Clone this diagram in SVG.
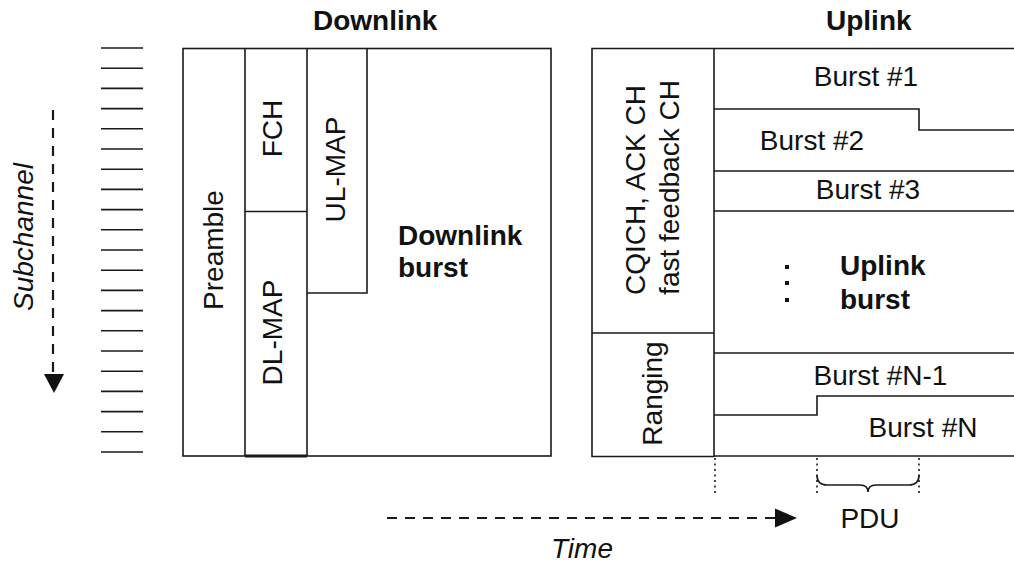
<svg xmlns="http://www.w3.org/2000/svg" width="1014" height="567" viewBox="0 0 1014 567">
  <defs>
    <style>
      .ln { fill: none; stroke: #1a1a1a; stroke-width: 1.6; }
      .tick { stroke: #1a1a1a; stroke-width: 1.6; }
      .dash { fill: none; stroke: #1a1a1a; stroke-width: 2.2; stroke-dasharray: 10 8; }
      .dot { fill: none; stroke: #1a1a1a; stroke-width: 1.6; stroke-dasharray: 2 3.5; }
      .t { font-family: "Liberation Sans", Arial, sans-serif; font-size: 28px; fill: #111; }
      .b { font-weight: bold; }
      .i { font-style: italic; }
      .c { text-anchor: middle; }
    </style>
  </defs>
  <rect width="1014" height="567" fill="#fff"/>

  <!-- titles -->
  <text class="t b" x="313" y="30" font-size="26">Downlink</text>
  <text class="t b" x="826" y="30" font-size="26">Uplink</text>

  <!-- subchannel ruler -->
  <g id="subchannel-ruler">
    <line class="tick" x1="101" y1="48" x2="143" y2="48"/>
    <line class="tick" x1="101" y1="68.2" x2="143" y2="68.2"/>
    <line class="tick" x1="101" y1="88.4" x2="143" y2="88.4"/>
    <line class="tick" x1="101" y1="108.6" x2="143" y2="108.6"/>
    <line class="tick" x1="101" y1="128.8" x2="143" y2="128.8"/>
    <line class="tick" x1="101" y1="149" x2="143" y2="149"/>
    <line class="tick" x1="101" y1="169.2" x2="143" y2="169.2"/>
    <line class="tick" x1="101" y1="189.4" x2="143" y2="189.4"/>
    <line class="tick" x1="101" y1="209.6" x2="143" y2="209.6"/>
    <line class="tick" x1="101" y1="229.8" x2="143" y2="229.8"/>
    <line class="tick" x1="101" y1="250" x2="143" y2="250"/>
    <line class="tick" x1="101" y1="270.2" x2="143" y2="270.2"/>
    <line class="tick" x1="101" y1="290.4" x2="143" y2="290.4"/>
    <line class="tick" x1="101" y1="310.6" x2="143" y2="310.6"/>
    <line class="tick" x1="101" y1="330.8" x2="143" y2="330.8"/>
    <line class="tick" x1="101" y1="351" x2="143" y2="351"/>
    <line class="tick" x1="101" y1="371.2" x2="143" y2="371.2"/>
    <line class="tick" x1="101" y1="391.4" x2="143" y2="391.4"/>
    <line class="tick" x1="101" y1="411.6" x2="143" y2="411.6"/>
    <line class="tick" x1="101" y1="431.8" x2="143" y2="431.8"/>
    <line class="tick" x1="101" y1="452" x2="143" y2="452"/>
  </g>

  <!-- downlink subframe -->
  <g id="downlink-frame">
    <rect class="ln" x="183" y="48.5" width="368" height="407.5"/>
  </g>
  <g id="preamble">
    <line class="ln" x1="245" y1="48.5" x2="245" y2="456"/>
    <text class="t c" transform="translate(223,250) rotate(-90)">Preamble</text>
  </g>
  <g id="fch">
    <line class="ln" x1="307" y1="48.5" x2="307" y2="456"/>
    <line class="ln" x1="245" y1="211.5" x2="307" y2="211.5"/>
    <text class="t c" transform="translate(282,128.5) rotate(-90)">FCH</text>
  </g>
  <g id="dl-map">
    <line x1="245" y1="456" x2="307" y2="456" stroke="#1a1a1a" stroke-width="3.2"/>
    <text class="t c" transform="translate(282,332.5) rotate(-90)">DL-MAP</text>
  </g>
  <g id="ul-map">
    <polyline class="ln" points="367,48.5 367,293 307,293"/>
    <text class="t c" transform="translate(345,169.5) rotate(-90)">UL-MAP</text>
  </g>
  <g id="downlink-burst">
    <text class="t b" x="398" y="245">Downlink</text>
    <text class="t b" x="398" y="277">burst</text>
  </g>

  <!-- uplink subframe -->
  <g id="uplink-frame">
    <polyline class="ln" points="1014,48.5 592,48.5 592,456.5 714,456.5"/>
    <line class="ln" x1="714" y1="456" x2="1014" y2="456"/>
    <line class="ln" x1="714" y1="48.5" x2="714" y2="457"/>
  </g>
  <g id="cqich">
    <line class="ln" x1="592" y1="333" x2="714" y2="333"/>
    <text class="t c" transform="translate(645,190) rotate(-90)">CQICH, ACK CH</text>
    <text class="t c" transform="translate(679,187.5) rotate(-90)">fast feedback CH</text>
  </g>
  <g id="ranging">
    <text class="t c" transform="translate(662,393.5) rotate(-90)">Ranging</text>
  </g>
  <g id="burst-1">
    <polyline class="ln" points="714,109 919,109 919,130 1014,130"/>
    <text class="t c" x="866" y="86">Burst #1</text>
  </g>
  <g id="burst-2">
    <line class="ln" x1="714" y1="171" x2="1014" y2="171"/>
    <text class="t c" x="812" y="150">Burst #2</text>
  </g>
  <g id="burst-3">
    <line class="ln" x1="714" y1="211" x2="1014" y2="211"/>
    <text class="t c" x="868" y="199">Burst #3</text>
  </g>
  <g id="uplink-burst">
    <rect x="785" y="265" width="4" height="4" fill="#111"/>
    <rect x="785" y="281" width="4" height="4" fill="#111"/>
    <rect x="785" y="298" width="4" height="4" fill="#111"/>
    <text class="t b" x="840" y="275">Uplink</text>
    <text class="t b" x="840" y="309">burst</text>
  </g>
  <g id="burst-n-1">
    <line class="ln" x1="714" y1="353" x2="1014" y2="353"/>
    <text class="t c" x="880.5" y="385">Burst #N-1</text>
  </g>
  <g id="burst-n">
    <polyline class="ln" points="714,415 817,415 817,396 1014,396"/>
    <text class="t c" x="923" y="437">Burst #N</text>
  </g>
  <g id="pdu">
    <text class="t c" x="870" y="528">PDU</text>
  </g>

  <!-- axes, guides and brace -->
  <g id="connectors">
    <line class="dash" x1="53" y1="110" x2="53" y2="372"/>
    <path d="M44,374 L64,374 L54,393 Z" fill="#111"/>
    <text class="t i c" transform="translate(33,237) rotate(-90)">Subchannel</text>

    <line class="dash" x1="387" y1="518" x2="775" y2="518"/>
    <path d="M775,508.5 L797,518 L775,527.5 Z" fill="#111"/>
    <text class="t i c" x="582" y="558">Time</text>

    <line class="dot" x1="715" y1="458" x2="715" y2="496"/>
    <line class="dot" x1="817" y1="458" x2="817" y2="496"/>
    <line class="dot" x1="919" y1="458" x2="919" y2="496"/>
    <path class="ln" d="M817,475 Q817,485 827,485 L860,485 Q868,485 868,492 Q868,485 876,485 L909,485 Q919,485 919,475"/>
  </g>
</svg>
